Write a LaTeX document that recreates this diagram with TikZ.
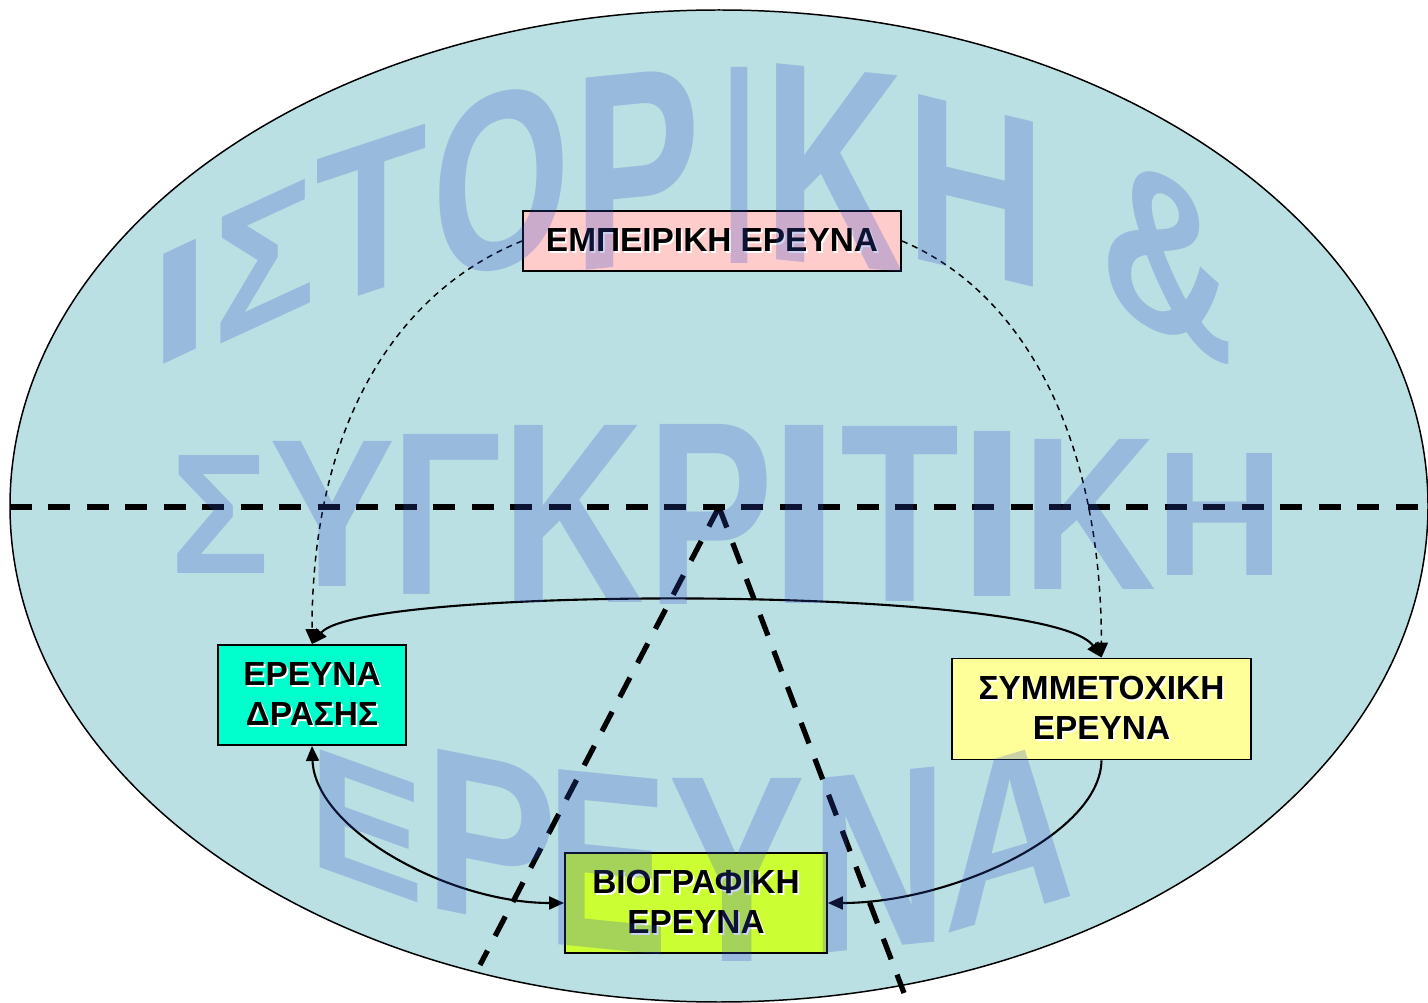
\documentclass[tikz,border=0pt]{standalone}
\usepackage{fontspec}
\setmainfont{Liberation Sans}
\usepackage{graphicx}
\usetikzlibrary{arrows.meta}

\definecolor{oval}{RGB}{187,224,227}
\definecolor{pinkbox}{RGB}{255,204,204}
\definecolor{aquabox}{RGB}{0,255,204}
\definecolor{yellowbox}{RGB}{255,255,153}
\definecolor{limebox}{RGB}{204,255,51}
\definecolor{wmblue}{RGB}{51,76,204}

\newlength{\wu}
\setlength{\wu}{0.02cm}
% white shadow under the box texts
\newcommand{\emb}[1]{\rlap{\kern1pt\raisebox{-1pt}{\color{white}#1}}#1}

\tikzset{
  box/.style={draw=black, line width=1.1pt, align=center, inner sep=0pt,
    font=\bfseries\fontsize{19}{23}\selectfont},
  link/.style={line width=1.2pt},
  hint/.style={line width=0.85pt, dash pattern=on 0.12cm off 0.1cm},
  divider/.style={line width=3pt, dash pattern=on 0.44cm off 0.33cm},
  wmark/.style={transform shape, inner sep=0pt, text=wmblue, opacity=0.25,
    text opacity=0.25, font=\bfseries}
}

\begin{document}
\begin{tikzpicture}[x=0.02cm, y=-0.02cm, >={Triangle[length=0.3cm,width=0.26cm]}]
  \useasboundingbox (0,0) rectangle (1428,1003);
  \filldraw[fill=oval, draw=black, line width=0.85pt] (719,506) ellipse [x radius=709, y radius=496];

  \coordinate (hl) at (10,507);
  \coordinate (hr) at (1428,507);
  \coordinate (apex) at (719,507);
  \coordinate (lfoot) at (480,965);
  \coordinate (rfoot) at (904,993);
  \draw[divider] (hl) -- (hr);
  \draw[divider] (apex) -- (lfoot);
  \draw[divider] (apex) -- (rfoot);

  \node[box, fill=pinkbox, minimum width=7.56cm, minimum height=1.2cm] (emp) at (712,241) {\emb{ΕΜΠΕΙΡΙΚΗ ΕΡΕΥΝΑ}};
  \node[box, fill=aquabox, minimum width=3.76cm, minimum height=2cm] (dra) at (312,695) {\emb{ΕΡΕΥΝΑ}\\\emb{ΔΡΑΣΗΣ}};
  \node[box, fill=yellowbox, minimum width=5.98cm, minimum height=2.02cm] (sym) at (1101.5,709) {\emb{ΣΥΜΜΕΤΟΧΙΚΗ}\\\emb{ΕΡΕΥΝΑ}};
  \node[box, fill=limebox, minimum width=5.24cm, minimum height=2cm] (bio) at (696,903) {\emb{ΒΙΟΓΡΑΦΙΚΗ}\\\emb{ΕΡΕΥΝΑ}};

  \draw[hint, ->] (emp.west) .. controls (400,290) and (312,420) .. (dra.north);
  \draw[hint, ->] (emp.east) .. controls (1019,290) and (1101,430) .. (sym.north);
  \draw[link, <->] (dra.north) .. controls (360,585) and (1050,585) .. (sym.north);
  \draw[link, <->] (dra.south) .. controls (315,830) and (450,903) .. (bio.west);
  \draw[link, ->] (sym.south) .. controls (1100,835) and (950,903) .. (bio.east);

  % watermark letters: x / y / width / height / slant / letter
  \foreach \px/\py/\pw/\ph/\ps/\pl [count=\i] in {180/302/63/110/0.47/Ι, 265/261/102/126/0.46/Σ,
      372/217/112/150/0.33/Τ, 502/181/138/178/0.25/Ο, 637/169/127/192/0.1/Ρ, 740/165/32/196/0/Ι,
      834/167/141/196/-0.1/Κ, 976/191/141/165/-0.24/Η, 1168/257/134/160/-0.5/\&}
    \node[wmark, yslant=\ps] (wa\i) at (\px,\py) {\resizebox*{\pw\wu}{\ph\wu}{\pl}};
  \foreach \px/\pw/\ph/\pl [count=\i] in {220/99/118/Σ, 333/126/145/Υ, 447/110/160/Γ, 573/143/177/Κ,
      711/126/180/Ρ, 805/74/178/Ι, 900/119/175/Τ, 993/70/165/Ι, 1090/134/150/Κ, 1220/129/122/Η}
    \node[wmark] (wb\i) at (\px,514) {\resizebox*{\pw\wu}{\ph\wu}{\pl}};
  \foreach \px/\py/\pw/\ph/\ps/\pl [count=\i] in {367/825/116/118/-0.36/Ε, 491/840/133/160/-0.2/Ρ,
      608/862/122/175/-0.1/Ε, 737/870/137/183/0/Υ, 879/860/137/175/0.1/Ν, 1010/835/131/160/0.3/Α}
    \node[wmark, yslant=\ps] (wc\i) at (\px,\py) {\resizebox*{\pw\wu}{\ph\wu}{\pl}};
\end{tikzpicture}
\end{document}
